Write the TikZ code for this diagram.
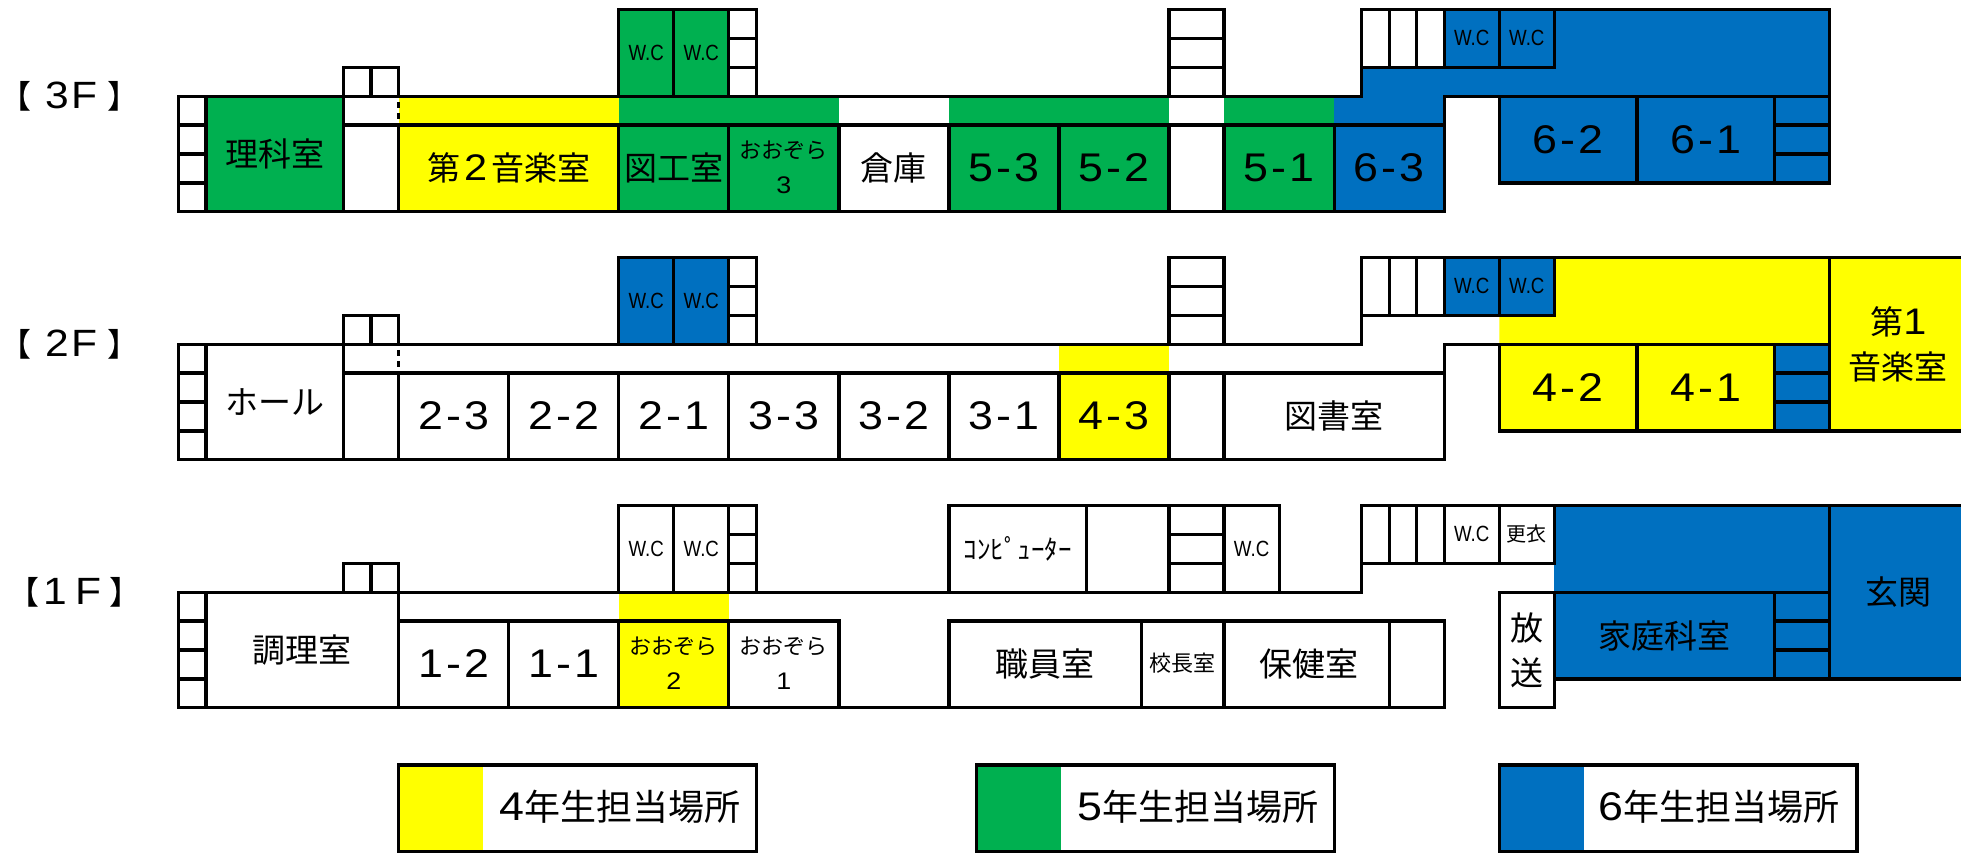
\documentclass[tikz,border=0pt]{standalone}
\usepackage{fontspec}
\setmainfont{Noto Sans CJK JP}
\newfontfamily\numfont[FakeStretch=1.12,LetterSpace=7.5]{Liberation Sans}
\newfontfamily\wcfont[FakeStretch=0.85]{Liberation Sans}
\definecolor{yelw}{HTML}{FFFF00}
\definecolor{gren}{HTML}{00B050}
\definecolor{blu}{HTML}{0070C0}
\tikzset{
	wall/.style={line width=3.3pt, line cap=rect},
	floorlbl/.style={font=\fontsize{32}{32}\selectfont},
	roomlbl/.style={font=\fontsize{33}{45}\selectfont, align=center},
	numlbl/.style={font=\numfont\fontsize{40}{40}\selectfont},
	wclbl/.style={font=\wcfont\fontsize{22}{22}\selectfont},
	smalllbl/.style={font=\fontsize{22}{35}\selectfont, align=center},
	keylbl/.style={font=\fontsize{36}{36}\selectfont}
}
\newcommand{\flnum}[1]{{\numfont\fontsize{38}{38}\selectfont #1}}
\newcommand{\rmnum}[1]{{\numfont\fontsize{37}{45}\selectfont #1}}
\newcommand{\smnum}[1]{{\numfont\fontsize{24}{35}\selectfont #1}}
\newcommand{\kynum}[1]{{\numfont\fontsize{40}{36}\selectfont #1}}
\newcommand{\leftstairs}{
	\draw[wall] (0,3) rectangle (1,7);
	\foreach \r in {4,5,6} \draw[wall] (0,\r)--(1,\r);
	\draw[wall] (6,2) rectangle (8,3);
	\draw[wall] (7,2)--(7,3);
}
\newcommand{\wcblock}{
	\draw[wall] (16,3)--(16,0)--(21,0)--(21,3);
	\foreach \c in {18,20} \draw[wall] (\c,0)--(\c,3);
	\foreach \r in {1,2} \draw[wall] (20,\r)--(21,\r);
}
\newcommand{\midstairs}{
	\draw[wall] (36,3)--(36,0)--(38,0)--(38,3);
	\foreach \r in {1,2} \draw[wall] (36,\r)--(38,\r);
}
\newcommand{\rightstairs}{
	\draw[wall] (43,2)--(50,2);
	\foreach \c in {44,45,46,48,50} \draw[wall] (\c,0)--(\c,2);
	\draw[wall] (58,3)--(58,6);
	\foreach \r in {4,5} \draw[wall] (58,\r)--(60,\r);
}
\begin{document}
\begin{tikzpicture}[x=27.517pt, y=-28.9pt]
	\useasboundingbox (-6.487,-0.3287) rectangle (64.78,29.36);

	% 3F
	\begin{scope}
		\fill[gren] (1,3) rectangle (6,7);
		\fill[yelw] (8,3) rectangle (16,7);
		\fill[gren] (16,0) rectangle (20,3);
		\fill[gren] (16,3) rectangle (24,7);
		\fill[gren] (28,3) rectangle (36,7);
		\fill[gren] (38,3) rectangle (42,7);
		\fill[blu] (43,3)--(43,2)--(50,2)--(50,0)--(60,0)--(60,6)--(48,6)--(48,3)--(46,3)--(46,7)--(42,7)--(42,3)--cycle;
		\fill[blu] (46,0) rectangle (50,2);
		\leftstairs
		\wcblock
		\midstairs
		\rightstairs
		\draw[wall] (0,3)--(43,3)--(43,0)--(60,0)--(60,6)--(48,6)--(48,3)--(46,3)--(46,7)--(0,7)--cycle;
		\draw[wall] (48,3)--(60,3);
		\draw[wall] (6,4)--(46,4);
		\draw[wall] (6,3)--(6,7);
		\foreach \c in {8,16,20,24,28,32,36,38,42} \draw[wall] (\c,4)--(\c,7);
		\draw[wall] (53,3)--(53,6);
		\draw[line width=3.3pt, dash pattern=on 6pt off 5pt] (8,3.2)--(8,3.8);
		\node[floorlbl] (lblthree) at (-3.96,3) {【\kern14pt\flnum{3F}\kern10pt】};
		\node[roomlbl] (rika) at (3.5,5) {理科室};
		\node[roomlbl] (ongakutwo) at (12,5.48) {第\kern4pt\rmnum{2}\kern4pt音楽室};
		\node[roomlbl] (zuko) at (18,5.48) {図工室};
		\node[smalllbl] (ozorathree) at (22,5.45) {おおぞら\\\smnum{3}};
		\node[roomlbl] (soko) at (26,5.48) {倉庫};
		\node[numlbl] (fivethree) at (30,5.48) {5-3};
		\node[numlbl] (fivetwo) at (34,5.48) {5-2};
		\node[numlbl] (fiveone) at (40,5.48) {5-1};
		\node[numlbl] (sixthree) at (44,5.48) {6-3};
		\node[numlbl] (sixtwo) at (50.5,4.5) {6-2};
		\node[numlbl] (sixone) at (55.5,4.5) {6-1};
		\node[wclbl] (wcaa) at (17,1.5) {W.C};
		\node[wclbl] (wcab) at (19,1.5) {W.C};
		\node[wclbl] (wcac) at (47,1) {W.C};
		\node[wclbl] (wcad) at (49,1) {W.C};
	\end{scope}

	% 2F
	\begin{scope}[yshift=-248pt]
		\fill[blu] (16,0) rectangle (20,3);
		\fill[yelw] (32,3) rectangle (36,7);
		\fill[yelw] (48,2)--(50,2)--(50,0)--(64.78,0)--(64.78,6)--(48,6)--cycle;
		\fill[blu] (46,0) rectangle (50,2);
		\fill[blu] (58,3) rectangle (60,6);
		\leftstairs
		\wcblock
		\midstairs
		\rightstairs
		\draw[wall] (0,3)--(43,3)--(43,0)--(64.78,0);
		\draw[wall] (64.78,6)--(48,6)--(48,3)--(46,3)--(46,7)--(0,7)--(0,3);
		\draw[wall] (48,3)--(60,3);
		\draw[wall] (60,0)--(60,6);
		\draw[wall] (6,4)--(46,4);
		\draw[wall] (6,3)--(6,7);
		\foreach \c in {8,12,16,20,24,28,32,36,38} \draw[wall] (\c,4)--(\c,7);
		\draw[wall] (53,3)--(53,6);
		\draw[line width=3.3pt, dash pattern=on 6pt off 5pt] (8,3.2)--(8,3.8);
		\node[floorlbl] (lbltwo) at (-3.96,3) {【\kern14pt\flnum{2F}\kern10pt】};
		\node[roomlbl] (hall) at (3.5,5) {ホール};
		\node[numlbl] (twothree) at (10,5.48) {2-3};
		\node[numlbl] (twotwo) at (14,5.48) {2-2};
		\node[numlbl] (twoone) at (18,5.48) {2-1};
		\node[numlbl] (threethree) at (22,5.48) {3-3};
		\node[numlbl] (threetwo) at (26,5.48) {3-2};
		\node[numlbl] (threeone) at (30,5.48) {3-1};
		\node[numlbl] (fourthree) at (34,5.48) {4-3};
		\node[roomlbl] (tosho) at (42,5.48) {図書室};
		\node[numlbl] (fourtwo) at (50.5,4.5) {4-2};
		\node[numlbl] (fourone) at (55.5,4.5) {4-1};
		\node[roomlbl] (ongakuone) at (62.5,3) {第\rmnum{1}\\音楽室};
		\node[wclbl] (wcba) at (17,1.5) {W.C};
		\node[wclbl] (wcbb) at (19,1.5) {W.C};
		\node[wclbl] (wcbc) at (47,1) {W.C};
		\node[wclbl] (wcbd) at (49,1) {W.C};
	\end{scope}

	% 1F
	\begin{scope}[yshift=-496pt]
		\fill[yelw] (16,3) rectangle (20,7);
		\fill[blu] (50,0) rectangle (64.78,6);
		\leftstairs
		\wcblock
		\midstairs
		\rightstairs
		\draw[wall] (0,3)--(43,3)--(43,0)--(64.78,0);
		\draw[wall] (64.78,6)--(50,6);
		\draw[wall] (48,3) rectangle (50,7);
		\draw[wall] (50,3)--(60,3);
		\draw[wall] (60,0)--(60,6);
		\draw[wall] (0,3)--(0,7)--(46,7)--(46,4)--(28,4)--(28,7);
		\draw[wall] (8,4)--(24,4)--(24,7);
		\draw[wall] (8,3)--(8,7);
		\foreach \c in {12,16,20,35,38,44} \draw[wall] (\c,4)--(\c,7);
		\draw[wall] (28,3)--(28,0)--(40,0)--(40,3);
		\draw[wall] (33,0)--(33,3);
		\node[floorlbl] (lblone) at (-3.78,3) {【\kern4pt\flnum{1\kern8pt F}\kern8pt】};
		\node[roomlbl] (chori) at (4.5,5) {調理室};
		\node[numlbl] (onetwo) at (10,5.48) {1-2};
		\node[numlbl] (oneone) at (14,5.48) {1-1};
		\node[smalllbl] (ozoratwo) at (18,5.45) {おおぞら\\\smnum{2}};
		\node[smalllbl] (ozoraone) at (22,5.45) {おおぞら\\\smnum{1}};
		\node[roomlbl] (shokuin) at (31.5,5.48) {職員室};
		\node[smalllbl] (kocho) at (36.5,5.45) {校長室};
		\node[roomlbl] (hoken) at (41.1,5.48) {保健室};
		\node[roomlbl] (hoso) at (49,5) {放\\送};
		\node[roomlbl] (katei) at (54,4.5) {家庭科室};
		\node[roomlbl] (genkan) at (62.5,3) {玄関};
		\node[font=\fontsize{27}{27}\selectfont] (pc) at (30.5,1.5) {ｺﾝﾋﾟｭｰﾀｰ};
		\node[wclbl] (wcca) at (17,1.5) {W.C};
		\node[wclbl] (wccb) at (19,1.5) {W.C};
		\node[wclbl] (wccc) at (39,1.5) {W.C};
		\node[wclbl] (wccd) at (47,1) {W.C};
		\node[font=\fontsize{20}{20}\selectfont] (koi) at (49,1) {更衣};
	\end{scope}

	% key
	\fill[yelw] (8,26.14) rectangle (11.07,29.14);
	\fill[gren] (29,26.14) rectangle (32.07,29.14);
	\fill[blu] (48,26.14) rectangle (51.07,29.14);
	\draw[wall] (8,26.14) rectangle (21,29.14);
	\draw[wall] (29,26.14) rectangle (42,29.14);
	\draw[wall] (48,26.14) rectangle (61,29.14);
	\node[keylbl] (keyfour) at (16.05,27.6) {\kynum{4}年生担当場所};
	\node[keylbl] (keyfive) at (37.05,27.6) {\kynum{5}年生担当場所};
	\node[keylbl] (keysix) at (56,27.6) {\kynum{6}年生担当場所};
\end{tikzpicture}
\end{document}
